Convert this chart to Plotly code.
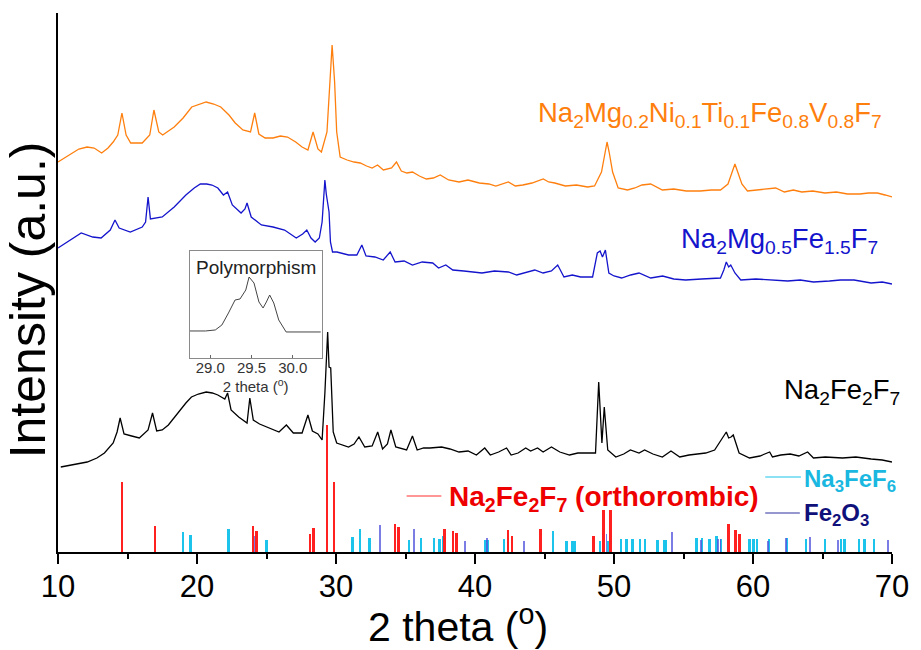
import plotly.graph_objects as go

# ---------------- data (2 theta in degrees, intensity in a.u.) ----------------
ni_x = [10.0, 10.8, 11.5, 12.09, 12.6, 13.14, 13.6, 13.97, 14.3, 14.6, 14.9, 15.23, 16.06, 16.6, 16.9,
        17.25, 17.53, 18.36, 19.0, 19.62, 20.2, 20.66, 21.2, 21.71, 22.3, 22.75, 23.3, 23.85, 24.15,
        24.45, 24.9, 25.47, 26.0, 26.51, 27.1, 27.56, 27.98, 28.35, 28.7, 28.95, 29.35, 29.55, 29.72,
        29.9, 30.05, 30.3, 30.8, 31.3, 31.74, 32.2, 32.6, 32.99, 33.41, 34.0, 34.35, 34.7, 35.1, 35.5,
        36.0, 36.5, 37.0, 37.5, 38.1, 38.85, 39.5, 40.31, 41.0, 41.5, 42.4, 42.9, 43.44, 44.1, 44.91,
        45.3, 45.74, 46.5, 47.3, 48.1, 48.6, 49.1, 49.35, 49.5, 49.65, 49.9, 50.3, 50.97, 51.5, 52.01,
        52.64, 53.1, 53.48, 54.3, 55.2, 56.2, 57.0, 57.66, 58.2, 58.5, 58.7, 58.9, 59.2, 59.6, 60.4,
        61.0, 61.63, 62.26, 62.9, 63.51, 64.3, 65.18, 66.0, 66.8, 67.69, 68.3, 68.95, 69.5, 70.0]
ni_y = [390, 397, 403, 405, 404, 399, 404, 410, 417, 439, 417, 409, 409, 417, 442,
        420, 417, 425, 434, 445, 448, 450, 448, 445, 437, 429, 422, 420, 439,
        418, 414, 414, 416, 415, 410, 405, 402, 420, 403, 400, 420, 470, 507,
        470, 420, 395, 392, 390, 389, 386, 384, 387, 382, 384, 390, 381, 379, 380,
        376, 373, 374, 377, 372, 370, 372, 369, 368, 366, 370, 366, 367, 369, 373,
        370, 369, 366, 367, 365, 366, 380, 400, 410, 400, 380, 364, 362, 364, 367,
        368, 365, 362, 363, 361, 361, 362, 362, 368, 380, 388, 380, 368, 361, 362,
        363, 364, 360, 362, 360, 361, 359, 360, 358, 358, 359, 359, 357, 355]

mg_x = [10.0, 10.84, 11.67, 12.5, 13.1, 13.76, 14.1, 14.4, 15.2, 16.06, 16.3, 16.48, 16.65, 17.5, 18.36,
        19.2, 19.8, 20.24, 20.7, 21.08, 21.5, 21.9, 22.2, 22.54, 23.17, 23.45, 23.6, 23.9, 24.63, 25.47,
        26.3, 27.14, 27.6, 27.9, 28.2, 28.5, 28.8, 29.0, 29.12, 29.2, 29.3, 29.38, 29.5, 29.6, 29.75,
        30.07, 30.9, 31.5, 31.86, 32.16, 32.8, 33.4, 33.9, 34.25, 34.9, 35.5, 36.2, 36.96, 37.38, 37.9,
        38.4, 39.2, 40.5, 41.4, 42.4, 43.0, 43.7, 44.3, 44.9, 45.5, 45.95, 46.4, 47.0, 47.6, 48.46,
        48.8, 49.0, 49.17, 49.38, 49.63, 50.0, 50.55, 51.2, 51.8, 52.64, 53.5, 54.3, 55.15, 56.3, 57.66,
        57.9, 58.08, 58.25, 58.4, 58.7, 59.12, 60.2, 61.4, 62.5, 63.4, 64.35, 65.5, 66.3, 67.27, 68.5,
        69.3, 70.0]
mg_y = [304, 312, 319, 315, 314, 322, 332, 324, 320, 325, 330, 355, 333, 335, 345,
        357, 364, 368, 368, 367, 364, 357, 360, 347, 339, 343, 349, 335, 327, 325,
        322, 314, 318, 322, 314, 310, 314, 330, 355, 372, 358, 352, 340, 310, 300,
        300, 297, 297, 307, 296, 295, 292, 300, 290, 291, 287, 290, 289, 284, 287,
        282, 281, 279, 281, 280, 277, 280, 282, 279, 281, 287, 275, 277, 275, 275,
        299, 301, 295, 302, 279, 276, 274, 277, 279, 274, 276, 273, 272, 273, 274,
        282, 290, 285, 287, 279, 272, 273, 272, 271, 272, 270, 271, 272, 272, 269,
        270, 268]

fe_x = [10.2, 11.2, 12.1, 12.8, 13.34, 13.97, 14.25, 14.47, 14.75, 15.3, 15.85, 16.48, 16.8, 17.1,
        17.5, 17.94, 18.78, 19.2, 19.6, 20.1, 20.66, 21.1, 21.5, 22.0, 22.2, 22.45, 23.0, 23.6, 23.8,
        24.05, 24.5, 25.05, 25.9, 26.43, 26.93, 27.56, 27.98, 28.3, 28.7, 29.0, 29.2, 29.4, 29.5, 29.62,
        29.8, 30.05, 30.9, 31.3, 31.65, 32.07, 32.6, 33.0, 33.35, 33.7, 33.95, 34.3, 35.08, 35.5, 35.84,
        36.3, 36.76, 37.6, 38.2, 38.85, 39.5, 40.1, 40.7, 41.1, 41.7, 42.27, 42.6, 43.1, 43.65, 44.0,
        44.5, 44.9, 45.5, 46.1, 46.8, 47.4, 48.04, 48.67, 48.9, 49.13, 49.3, 49.55, 50.13, 50.7, 51.18,
        51.8, 52.2, 52.8, 53.48, 54.1, 54.73, 55.4, 56.0, 56.6, 57.24, 57.87, 58.08, 58.25, 58.42,
        58.58, 59.0, 59.75, 60.5, 61.2, 61.4, 62.0, 62.68, 63.3, 63.93, 64.35, 65.2, 66.44, 67.4, 68.5,
        69.3, 70.0]
fe_y = [85, 88, 90, 94, 99, 109, 120, 134, 118, 116, 114, 122, 139, 121,
        122, 127, 142, 149, 155, 158, 160, 159, 157, 153, 159, 142, 135, 129, 154,
        132, 128, 125, 120, 127, 119, 119, 137, 121, 118, 112, 159, 220, 185, 184,
        120, 109, 105, 108, 115, 105, 106, 120, 103, 108, 122, 105, 102, 116, 102,
        104, 104, 105, 103, 100, 101, 97, 104, 97, 100, 104, 97, 99, 104, 101,
        104, 100, 105, 100, 97, 99, 99, 99, 170, 109, 145, 102, 95, 98, 102,
        99, 102, 98, 95, 101, 95, 97, 98, 99, 102, 115, 120, 114, 115,
        117, 99, 94, 96, 100, 95, 97, 98, 96, 100, 94, 95, 94, 95, 93,
        92, 90]

inset_x = [28.75, 28.94, 29.06, 29.14, 29.22, 29.30, 29.36, 29.43, 29.47, 29.53, 29.59, 29.64, 29.68,
           29.72, 29.77, 29.83, 29.92, 30.04, 30.2, 30.34]
inset_y = [27, 27, 28, 33, 45, 58, 59, 68, 81, 75, 56, 50, 56, 63, 55, 38, 26, 26, 26, 26]

ref_na2fe2f7_x = [14.61, 16.98, 24.06, 24.3, 28.13, 28.39, 29.39, 29.86, 34.26, 34.52, 37.82, 38.44,
                  38.7, 42.41, 42.69, 44.73, 48.54, 49.27, 49.75, 58.25, 58.75, 59.04]
ref_na2fe2f7_h = [70, 26, 26, 21, 18, 24, 127, 70, 28, 25, 23, 21, 19, 22, 16, 23, 16, 42, 42, 28, 22, 18]

ref_na3fef6_x = [19.03, 19.55, 22.28, 25.02, 31.22, 31.74, 32.43, 35.28, 36.13, 37.06, 37.46, 37.75,
                 38.65, 40.72, 40.93, 42.1, 42.69, 45.62, 46.59, 47.02, 47.16, 49.03, 49.58, 50.53,
                 50.93, 51.36, 51.89, 52.24, 53.14, 53.62, 53.74, 55.95, 56.35, 56.9, 57.38, 57.73,
                 59.75, 60.04, 60.32, 61.18, 62.46, 63.83, 65.19, 66.33, 66.61, 67.64, 68.04, 68.73]
ref_na3fef6_h = [20, 17, 23, 12, 15, 23, 14, 12, 14, 14, 13, 16,
                 11, 12, 12, 13, 11, 21, 11, 11, 11, 11, 11, 13,
                 13, 13, 13, 13, 12, 12, 12, 14, 14, 13, 16, 13,
                 13, 13, 13, 13, 14, 13, 13, 13, 13, 13, 13, 13]

ref_fe2o3_x = [24.11, 33.16, 35.59, 39.29, 40.84, 43.55, 49.46, 54.17, 56.28, 57.49, 57.66, 61.08,
               62.36, 64.07, 66.11, 69.68]
ref_fe2o3_h = [16, 27, 23, 11, 14, 11, 18, 20, 12, 13, 13, 11, 14, 15, 12, 12]

x_ticks = [10, 20, 30, 40, 50, 60, 70]
inset_ticks = [29.0, 29.5, 30.0]
inset_ticklabels = ["29.0", "29.5", "30.0"]

# ---------------- styling ----------------
FONT = "Arial, Liberation Sans, sans-serif"
C_ORANGE = "#FF7F0E"
C_BLUE = "#1414CC"
C_BLACK = "#000000"
C_RED = "#FF2020"
C_CYAN = "#1CC4EC"
C_NAVY = "rgba(80,80,220,0.75)"

fig = go.Figure()

for xs, ys, col in [(fe_x, fe_y, C_BLACK), (mg_x, mg_y, C_BLUE), (ni_x, ni_y, C_ORANGE)]:
    fig.add_trace(go.Scatter(x=xs, y=ys, mode="lines", line=dict(color=col, width=1.3),
                             showlegend=False, xaxis="x", yaxis="y"))

for xs, hs, col in [(ref_na3fef6_x, ref_na3fef6_h, C_CYAN),
                    (ref_fe2o3_x, ref_fe2o3_h, C_NAVY),
                    (ref_na2fe2f7_x, ref_na2fe2f7_h, C_RED)]:
    fig.add_trace(go.Bar(x=xs, y=hs, width=0.14, marker=dict(color=col, line=dict(width=0)),
                         showlegend=False, xaxis="x", yaxis="y"))

fig.add_trace(go.Scatter(x=inset_x, y=inset_y, mode="lines", line=dict(color="#444444", width=1),
                         showlegend=False, xaxis="x2", yaxis="y2"))

annotations = [
    dict(text="Intensity (a.u.)", xref="paper", yref="paper", x=-0.0356, y=0.4675,
         xanchor="center", yanchor="middle", textangle=-90, showarrow=False,
         font=dict(family=FONT, size=50, color="black")),
    dict(text="2 theta (<sup>o</sup>)", xref="paper", yref="paper", x=0.48, y=-0.134,
         xanchor="center", yanchor="middle", showarrow=False,
         font=dict(family=FONT, size=41, color="black")),
    dict(text="Na<sub>2</sub>Mg<sub>0.2</sub>Ni<sub>0.1</sub>Ti<sub>0.1</sub>Fe<sub>0.8</sub>V<sub>0.8</sub>F<sub>7</sub>",
         xref="x", yref="y", x=44.42, y=438, xanchor="left", yanchor="middle", showarrow=False,
         font=dict(family=FONT, size=27.5, color=C_ORANGE)),
    dict(text="Na<sub>2</sub>Mg<sub>0.5</sub>Fe<sub>1.5</sub>F<sub>7</sub>",
         xref="x", yref="y", x=54.7, y=312, xanchor="left", yanchor="middle", showarrow=False,
         font=dict(family=FONT, size=27.5, color=C_BLUE)),
    dict(text="Na<sub>2</sub>Fe<sub>2</sub>F<sub>7</sub>",
         xref="x", yref="y", x=62.1, y=161, xanchor="left", yanchor="middle", showarrow=False,
         font=dict(family=FONT, size=27.5, color="black")),
    dict(text="<b>Na<sub>2</sub>Fe<sub>2</sub>F<sub>7</sub> (orthorombic)</b>",
         xref="x", yref="y", x=38.0, y=54, xanchor="left", yanchor="middle", showarrow=False,
         font=dict(family=FONT, size=28, color="#EE0000")),
    dict(text="<b>Na<sub>3</sub>FeF<sub>6</sub></b>",
         xref="x", yref="y", x=63.55, y=72, xanchor="left", yanchor="middle", showarrow=False,
         font=dict(family=FONT, size=24, color="#1AB8E0")),
    dict(text="<b>Fe<sub>2</sub>O<sub>3</sub></b>",
         xref="x", yref="y", x=63.5, y=38, xanchor="left", yanchor="middle", showarrow=False,
         font=dict(family=FONT, size=24, color="#10107A")),
    dict(text="Polymorphism", xref="x2", yref="y2", x=29.55, y=91, xanchor="center", yanchor="middle",
         showarrow=False, font=dict(family=FONT, size=19, color="#222222")),
]

shapes = [
    dict(type="line", xref="x", yref="y", x0=35.08, x1=37.58, y0=56, y1=56,
         line=dict(color="#FF3030", width=1.2)),
    dict(type="line", xref="x", yref="y", x0=60.88, x1=63.45, y0=75, y1=75,
         line=dict(color=C_CYAN, width=1.2)),
    dict(type="line", xref="x", yref="y", x0=60.88, x1=63.37, y0=39, y1=39,
         line=dict(color="#3030A0", width=1.2)),
]

fig.update_layout(
    width=921, height=650,
    margin=dict(l=58, r=21, t=13, b=98),
    paper_bgcolor="white", plot_bgcolor="white",
    barmode="overlay", bargap=0,
    showlegend=False,
    font=dict(family=FONT, color="black"),
    xaxis=dict(range=[10, 70], tickvals=x_ticks, ticks="outside", ticklen=10, tickwidth=2,
               tickcolor="black", showline=True, linewidth=2, linecolor="black",
               ticklabelstandoff=-4,
               showgrid=False, zeroline=False, tickfont=dict(family=FONT, size=31),
               minor=dict(dtick=5, ticks="outside", ticklen=5, tickwidth=2, tickcolor="black"),
               domain=[0, 1], anchor="y"),
    yaxis=dict(range=[0, 539], showline=True, linewidth=2, linecolor="black", showticklabels=False,
               ticks="", showgrid=False, zeroline=False, domain=[0, 1], anchor="x"),
    xaxis2=dict(domain=[0.158, 0.316], anchor="y2", range=[28.75, 30.35], tickvals=inset_ticks,
                ticktext=inset_ticklabels, ticks="inside", ticklen=3, tickcolor="#666666",
                ticklabelstandoff=-4,
                showline=True, mirror=True, linecolor="#8A8A8A", linewidth=1, showgrid=False,
                zeroline=False, tickfont=dict(family=FONT, size=15, color="#333333"),
                title=dict(text="2 theta (<sup>o</sup>)", font=dict(family=FONT, size=15, color="#333333"),
                           standoff=0)),
    yaxis2=dict(domain=[0.36, 0.5584], anchor="x2", range=[0, 107], showline=True, mirror=True,
                linecolor="#8A8A8A", linewidth=1, showticklabels=False, ticks="", showgrid=False,
                zeroline=False),
    annotations=annotations,
    shapes=shapes,
)

fig.write_html("out.html")
